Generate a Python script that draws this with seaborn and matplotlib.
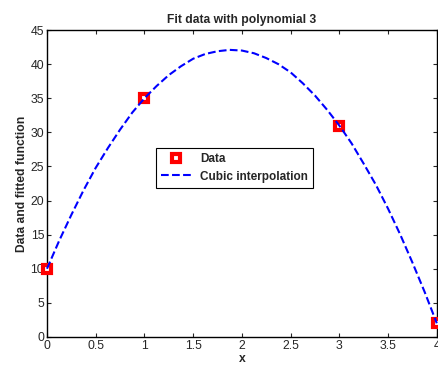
import numpy as np
import matplotlib
matplotlib.use('Agg')
import matplotlib.pyplot as plt
from matplotlib.ticker import FormatStrFormatter
import seaborn as sns

# data points
data_x = [0, 1, 3, 4]
data_y = [10, 35, 31, 2]

# fitted curve
fit_x = [0, 0.125, 0.25, 0.375, 0.5, 0.625, 0.75, 0.875, 1, 1.125, 1.25, 1.375, 1.5,
         1.625, 1.75, 1.875, 2, 2.125, 2.25, 2.375, 2.5, 2.625, 2.75, 2.875, 3,
         3.125, 3.25, 3.375, 3.5, 3.625, 3.75, 3.875, 4]
fit_y = [10, 14.1, 17.9, 21.5, 24.8, 27.7, 30.4, 32.9, 35, 36.8, 38.4, 39.7, 40.8,
         41.5, 41.9, 42.1, 42, 41.6, 40.9, 40.0, 38.8, 37.2, 35.4, 33.3, 31,
         28.4, 25.4, 22.3, 18.8, 15.0, 10.9, 6.6, 2]

x_ticks = [0, 0.5, 1, 1.5, 2, 2.5, 3, 3.5, 4]
y_ticks = [0, 5, 10, 15, 20, 25, 30, 35, 40, 45]

sns.set_style('ticks')
plt.rcParams['font.family'] = ['Liberation Sans', 'DejaVu Sans']

fig = plt.figure(figsize=(4.39, 3.67), dpi=100)
ax = fig.add_axes([0.107, 0.082, 0.888, 0.836])

sns.lineplot(x=data_x, y=data_y, ax=ax, linestyle='', marker='s', markersize=6,
             markerfacecolor='white', markeredgecolor='red', markeredgewidth=3,
             label='Data', clip_on=False, zorder=3)
sns.lineplot(x=fit_x, y=fit_y, ax=ax, color='blue', linestyle='--', linewidth=1.5,
             dashes=(2.5, 1.5), label='Cubic interpolation', clip_on=False, zorder=4)

ax.set_xlim(0, 4)
ax.set_ylim(0, 45)
ax.set_xticks(x_ticks)
ax.set_yticks(y_ticks)
ax.xaxis.set_major_formatter(FormatStrFormatter('%g'))
ax.yaxis.set_major_formatter(FormatStrFormatter('%g'))
ax.tick_params(direction='in', top=True, right=True, labelsize=8.8, length=3, width=0.8, pad=2)
for s in ax.spines.values():
    s.set_linewidth(1.0)
    s.set_color('black')

ax.set_title('Fit data with polynomial 3', fontsize=8.7, fontweight='bold', pad=5)
ax.set_xlabel('x', fontsize=8.7, fontweight='bold', labelpad=1)
ax.set_ylabel('Data and fitted function', fontsize=8.7, fontweight='bold', labelpad=2)

leg = ax.legend(loc='upper left', bbox_to_anchor=(0.264, 0.635),
                frameon=True, fancybox=False, edgecolor='black', framealpha=1,
                prop={'weight': 'bold', 'size': 8.5}, handlelength=2.5, borderpad=0.45,
                labelspacing=0.45)
leg.get_frame().set_linewidth(0.8)

fig.savefig('out.png', dpi=100)
